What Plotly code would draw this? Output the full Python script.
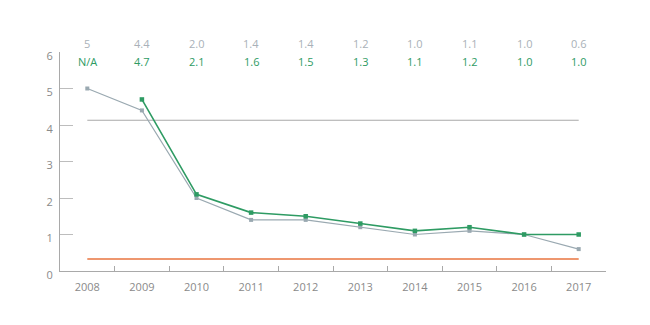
import plotly.graph_objects as go

years = ["2008", "2009", "2010", "2011", "2012", "2013", "2014", "2015", "2016", "2017"]
gray_values = [5.0, 4.4, 2.0, 1.4, 1.4, 1.2, 1.0, 1.1, 1.0, 0.6]
green_values = [None, 4.7, 2.1, 1.6, 1.5, 1.3, 1.1, 1.2, 1.0, 1.0]
gray_labels = ["5", "4.4", "2.0", "1.4", "1.4", "1.2", "1.0", "1.1", "1.0", "0.6"]
green_labels = ["N/A", "4.7", "2.1", "1.6", "1.5", "1.3", "1.1", "1.2", "1.0", "1.0"]
gray_ref_level = 4.13
orange_ref_level = 0.33

GRAY = "#9aa9b1"
GREEN = "#2e9b63"
ORANGE = "#e9743f"
REF_GRAY = "#a9a9a9"
AXIS = "#a9a9a9"
TXT = "#8a8a8a"
FONT = "Open Sans"
FS = 11

fig = go.Figure()
fig.add_trace(go.Scatter(x=years, y=[gray_ref_level] * len(years), mode="lines",
                         line=dict(color=REF_GRAY, width=1.1), hoverinfo="skip"))
fig.add_trace(go.Scatter(x=years, y=[orange_ref_level] * len(years), mode="lines",
                         line=dict(color=ORANGE, width=1.6), hoverinfo="skip"))
fig.add_trace(go.Scatter(x=years, y=gray_values, mode="lines+markers",
                         line=dict(color=GRAY, width=1.2),
                         marker=dict(symbol="square", size=4, color=GRAY)))
fig.add_trace(go.Scatter(x=years, y=green_values, mode="lines+markers",
                         line=dict(color=GREEN, width=1.6),
                         marker=dict(symbol="square", size=4.5, color=GREEN)))

for i, (gl, nl) in enumerate(zip(gray_labels, green_labels)):
    fig.add_annotation(x=i, y=1.038, xref="x", yref="paper", text=gl, showarrow=False,
                       font=dict(family=FONT, size=FS, color="#a9b1b8"), yanchor="middle")
    fig.add_annotation(x=i, y=0.958, xref="x", yref="paper", text=nl, showarrow=False,
                       font=dict(family=FONT, size=FS, color=GREEN), yanchor="middle")

fig.update_layout(
    width=650, height=325,
    margin=dict(l=59.5, r=44, t=51.7, b=53.7),
    paper_bgcolor="white", plot_bgcolor="white",
    showlegend=False,
    font=dict(family=FONT, size=FS, color=TXT),
    xaxis=dict(type="category", range=[-0.5, 9.5], tickson="boundaries",
               ticks="inside", ticklen=5, tickcolor=AXIS, tickwidth=1,
               showline=True, linecolor=AXIS, linewidth=1,
               showgrid=False, zeroline=False,
               tickfont=dict(family=FONT, size=FS, color=TXT),
               ticklabelstandoff=6),
    yaxis=dict(range=[0, 6], dtick=1, tick0=0,
               ticks="inside", ticklen=13, tickcolor="#bdbdbd", tickwidth=1,
               showline=True, linecolor=AXIS, linewidth=1,
               showgrid=False, zeroline=False,
               tickfont=dict(family=FONT, size=FS, color=TXT),
               ticklabelstandoff=4, ticklabelshift=4),
)

fig.write_html("out.html")
